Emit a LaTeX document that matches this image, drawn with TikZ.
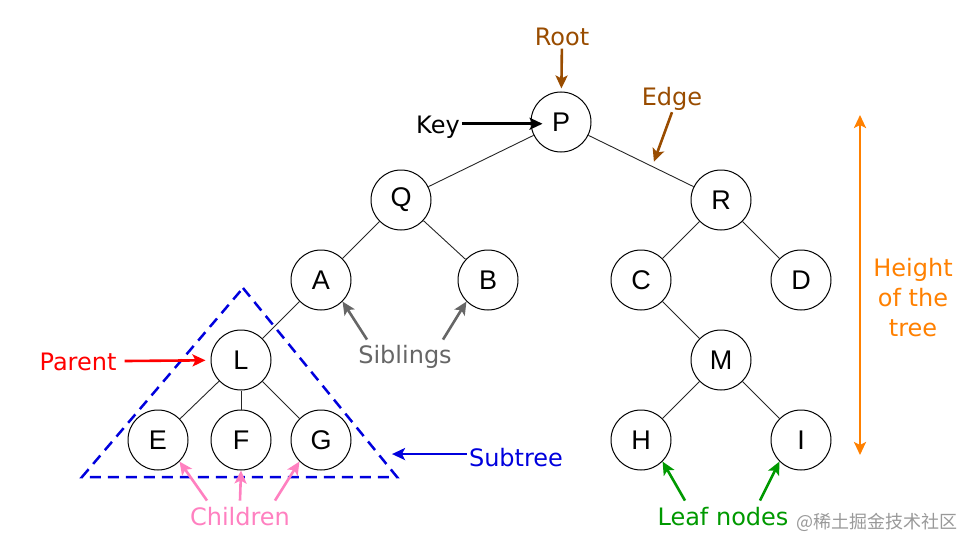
\documentclass[tikz,border=0pt]{standalone}
\usepackage{fontspec}
\setmainfont{DejaVu Sans}
\newfontfamily\keyfont{Liberation Sans}
\newfontfamily\cjkfont{Noto Sans CJK SC}
\usepackage{tikz}
\usetikzlibrary{positioning}
\usetikzlibrary{shapes.geometric, arrows, arrows.meta}
\usetikzlibrary{calc, shapes, backgrounds}
\tikzstyle{arrow} = [line width=2.6pt,->,>={Stealth[length=13pt, width=12pt, inset=3pt]}]

\definecolor{rootbrown}{HTML}{994C00}
\definecolor{heightorange}{HTML}{FF8000}
\definecolor{parentred}{HTML}{FF0000}
\definecolor{subblue}{HTML}{0000DD}
\definecolor{sibgray}{HTML}{666666}
\definecolor{childpink}{HTML}{FF80C0}
\definecolor{leafgreen}{HTML}{009900}

\begin{document}
\begin{tikzpicture}[
			x = 1pt, y = -1pt,
			vertex/.style = {draw, circle, minimum size = 60pt, inner sep = 0pt, line width = 1pt, font = \keyfont\fontsize{27}{27}\selectfont},
			tag/.style = {inner sep = 2pt, anchor = base, font = \fontsize{24}{30}\selectfont},
			link/.style = {line width = 0.9pt, draw = black!85}
		]
			\useasboundingbox (0,0) rectangle (975,551);

			% Nodes
			\node[vertex] (P) at (561,122) {P};
			\node[vertex] (Q) at (401,200) {Q};
			\node[vertex] (R) at (721,200) {R};
			\node[vertex] (A) at (321,280) {A};
			\node[vertex] (B) at (488,280) {B};
			\node[vertex] (C) at (641,280) {C};
			\node[vertex] (D) at (801,280) {D};
			\node[vertex] (L) at (241,360) {L};
			\node[vertex] (M) at (721,360) {M};
			\node[vertex] (E) at (158,440) {E};
			\node[vertex] (F) at (241,440) {F};
			\node[vertex] (G) at (321,440) {G};
			\node[vertex] (H) at (641,440) {H};
			\node[vertex] (I) at (801,440) {I};

			% Edges
			\draw[link] (P) -- (Q);
			\draw[link] (P) -- (R);
			\draw[link] (Q) -- (A);
			\draw[link] (Q) -- (B);
			\draw[link] (R) -- (C);
			\draw[link] (R) -- (D);
			\draw[link] (A) -- (L);
			\draw[link] (C) -- (M);
			\draw[link] (L) -- (E);
			\draw[link] (L) -- (F);
			\draw[link] (L) -- (G);
			\draw[link] (M) -- (H);
			\draw[link] (M) -- (I);

			% Subtree
			\draw[subblue, line width = 2.5pt, dash pattern = on 11pt off 7pt] (243,288) -- (397,477) -- (82,477) -- cycle;

			% Labels
			\node[tag, text = rootbrown] (root) at (562,46) {Root};
			\node[tag] (key) at (438,133) {Key};
			\node[tag, text = rootbrown] (edge) at (672,105) {Edge};
			\node[tag, text = parentred] (parent) at (78,370) {Parent};
			\node[tag, text = sibgray] (siblings) at (405,363) {Siblings};
			\node[tag, text = childpink] (children) at (240,525) {Children};
			\node[tag, text = subblue] (subtree) at (516,466) {Subtree};
			\node[tag, text = leafgreen] (leaf) at (723,525) {Leaf nodes};
			\node[tag, anchor = center, align = center, text = heightorange] (height) at (913,298) {Height\\of the\\tree};
			\node[inner sep = 0pt, anchor = base, text = black!40, font = \cjkfont\fontsize{18}{18}\selectfont] (mark) at (877,528) {@稀土掘金技术社区};

			\coordinate (edgept) at ($(P)!0.57!(R)$);
			\coordinate (subtip) at (392,455);
			\coordinate (htop) at (860,115);
			\coordinate (hbot) at (860,455);

			% Arrows
			\draw[arrow, rootbrown, shorten > = 3pt] (root) -- (P);
			\draw[arrow, black, shorten > = -12pt] ([yshift = 3pt]key.east) -- ([yshift = 3pt]key.east -| P.west);
			\draw[arrow, rootbrown, shorten > = 5pt] (edge.south) -- (edgept);
			\draw[arrow, parentred, shorten < = 6pt, shorten > = 5pt] (parent) -- (L);
			\draw[arrow, sibgray] ([xshift = -38pt, yshift = 3pt]siblings.north) -- (A.south east);
			\draw[arrow, sibgray] ([xshift = 38pt, yshift = 3pt]siblings.north) -- (B.south west);
			\draw[arrow, childpink] ([xshift = -33pt, yshift = 4pt]children.north) -- (E.south east);
			\draw[arrow, childpink] ([yshift = 4pt]children.north) -- (F.south);
			\draw[arrow, childpink] ([xshift = 35pt, yshift = 4pt]children.north) -- (G.south west);
			\draw[arrow, subblue] ([yshift = 3pt]subtree.west) -- ([yshift = 3pt]subtree.west -| subtip);
			\draw[arrow, leafgreen] ([xshift = -38pt, yshift = 4pt]leaf.north) -- (H.south east);
			\draw[arrow, leafgreen] ([xshift = 37pt, yshift = 4pt]leaf.north) -- (I.south west);
			\draw[arrow, heightorange, <->] (htop) -- (hbot);
		\end{tikzpicture}
\end{document}
